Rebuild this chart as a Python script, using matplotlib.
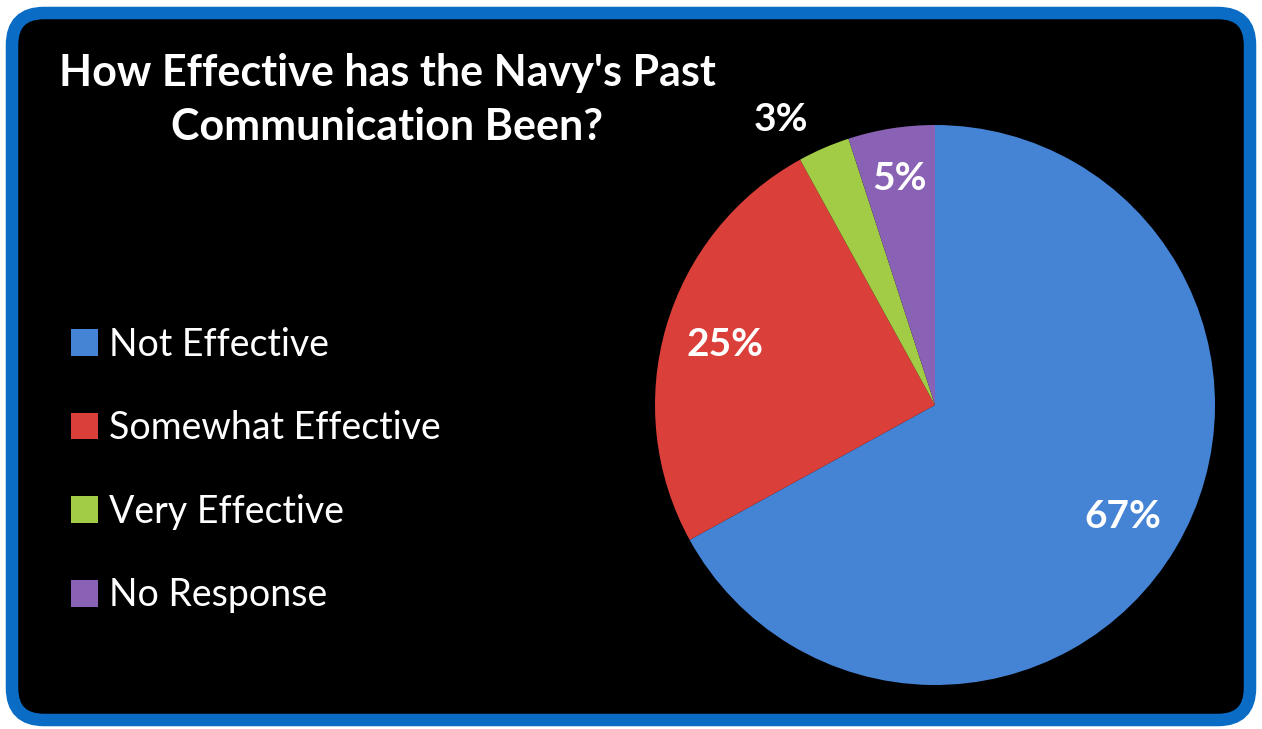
import matplotlib
matplotlib.use("Agg")
import matplotlib.pyplot as plt
from matplotlib.patches import FancyBboxPatch, Patch
import numpy as np

plt.rcParams["font.family"] = ["Lato", "DejaVu Sans"]

# Data
categories = ["Not Effective", "Somewhat Effective", "Very Effective", "No Response"]
shares = [67, 25, 3, 5]
pct_labels = ["67%", "25%", "3%", "5%"]
colors = ["#4583D5", "#DB3F3A", "#A3CC46", "#8A62B5"]
title = "How Effective has the Navy's Past\nCommunication Been?"

W, H = 1262, 729
fig = plt.figure(figsize=(W / 100, H / 100), dpi=100, facecolor="white")

# Background panel with rounded blue border
bg = fig.add_axes([0, 0, 1, 1])
bg.set_xlim(0, W)
bg.set_ylim(H, 0)
bg.axis("off")
bg.add_patch(FancyBboxPatch((12, 13), W - 24, H - 22,
                            boxstyle="round,pad=0,rounding_size=32",
                            facecolor="black", edgecolor="#0A6CC4", linewidth=9))

# Pie: centre (935, 405), radius 280 px
cx, cy, r = 935, 405, 280
pax = fig.add_axes([(cx - r) / W, (H - cy - r) / H, 2 * r / W, 2 * r / H])
wedges, _ = pax.pie(shares, colors=colors, startangle=90, counterclock=False,
                    wedgeprops=dict(linewidth=0))
pax.set_xlim(-1, 1)
pax.set_ylim(-1, 1)
pax.set_aspect("equal")

label_dist = [0.78, 0.78, 1.16, 0.82]
label_shift = [0, 0, 5, 0]  # degrees, pushes the small outside label over
for w, lab, d, s in zip(wedges, pct_labels, label_dist, label_shift):
    ang = np.deg2rad((w.theta1 + w.theta2) / 2 + s)
    pax.text(d * np.cos(ang), d * np.sin(ang), lab, color="white",
             fontsize=28, fontweight="bold", ha="center", va="center")

# Title
fig.text(387 / W, 1 - 100 / H, title, color="white", fontsize=31,
         fontweight="bold", ha="center", va="center", linespacing=1.45)

# Legend
handles = [Patch(facecolor=c, edgecolor="none") for c in colors]
leg = fig.legend(handles, categories, loc="center left",
                 bbox_to_anchor=(37 / W, 1 - 470 / H), frameon=False,
                 fontsize=27, labelcolor="white", handlelength=0.72,
                 handleheight=0.72, handletextpad=0.3, labelspacing=1.27)

fig.savefig("out.png", dpi=100, facecolor="white")
